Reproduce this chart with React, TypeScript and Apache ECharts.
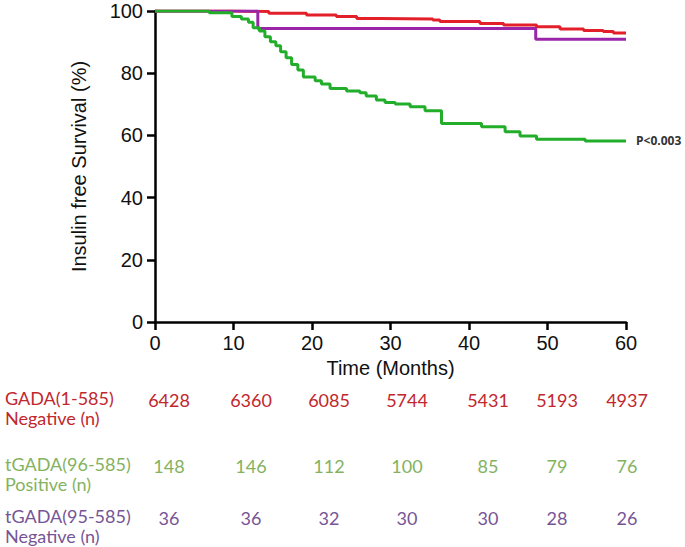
import React, { useEffect, useRef } from "react";
import * as echarts from "echarts";

// Kaplan-Meier curves: [month, survival %]
const gadaNegative: [number, number][] = [
  [0, 100], [10, 99.8], [14.5, 99.3], [19.3, 98.7], [23.1, 98.2], [25.7, 97.6],
  [28.7, 97.4], [35.4, 97.1], [36.3, 96.6], [41.4, 96.0], [44.4, 95.5],
  [48.6, 94.9], [51.6, 94.2], [54.6, 93.7], [57.1, 93.4], [58.4, 92.9], [60, 92.9],
];
const tgadaNegative: [number, number][] = [
  [0, 100], [13.1, 94.4], [48.5, 90.9], [60, 90.9],
];
const tgadaPositive: [number, number][] = [
  [0, 100], [6.9, 99.4], [9.8, 98.2], [11, 97.4], [11.9, 96.4], [12.5, 94.6],
  [13.3, 93.6], [14, 91.7], [14.7, 90.1], [15.4, 88.8], [16, 86.9], [16.7, 85],
  [17.4, 82.8], [18.2, 81], [18.9, 78.8], [20.4, 77.6], [21.2, 76.5], [22.3, 75.1],
  [24.4, 74.3], [26.1, 73.7], [26.9, 72.7], [28.2, 71.4], [29.3, 70.6], [30.6, 70.1],
  [32.5, 69.2], [34.4, 67.9], [36.5, 63.8], [41.6, 62.8], [44.6, 61.2], [46.5, 59.8],
  [48.6, 58.8], [54.8, 58.2], [60, 58.2],
];

// Numbers at risk table
const riskGadaNeg = [6428, 6360, 6085, 5744, 5431, 5193, 4937];
const riskTgadaPos = [148, 146, 112, 100, 85, 79, 76];
const riskTgadaNeg = [36, 36, 32, 30, 30, 28, 26];
const rowLabels = [
  ["GADA(1-585)", "Negative (n)"],
  ["tGADA(96-585)", "Positive (n)"],
  ["tGADA(95-585)", "Negative (n)"],
];
const pValueText = "P<0.003";

const RED = "#e3202a";
const GREEN = "#22ad2b";
const PURPLE = "#9a25a8";
const TXT_RED = "#c1272d";
const TXT_GREEN = "#84b25f";
const TXT_PURPLE = "#765596";

const colX = [169, 251, 329, 407, 488, 557, 627];
const rowY = [[400, 420], [466, 486], [518, 538]];

export default function App() {
  const ref = useRef<HTMLDivElement>(null);
  useEffect(() => {
    if (!ref.current) return;
    const chart = echarts.init(ref.current, undefined, { renderer: "svg" });
    const tableFont = "18px Lato, 'Open Sans', sans-serif";
    const rows = [riskGadaNeg, riskTgadaPos, riskTgadaNeg];
    const rowColors = [TXT_RED, TXT_GREEN, TXT_PURPLE];
    const graphics: any[] = [];
    rows.forEach((vals, r) => {
      graphics.push({
        type: "text",
        left: 5,
        top: rowY[r][0] - 11,
        style: { text: rowLabels[r][0], fill: rowColors[r], font: tableFont },
      });
      graphics.push({
        type: "text",
        left: 5,
        top: rowY[r][1] - 11,
        style: { text: rowLabels[r][1], fill: rowColors[r], font: tableFont },
      });
      vals.forEach((v, i) => {
        graphics.push({
          type: "text",
          x: colX[i],
          y: rowY[r][0],
          style: {
            text: String(v),
            fill: rowColors[r],
            font: tableFont,
            textAlign: "center",
            textVerticalAlign: "middle",
          },
        });
      });
    });

    const axisFont = "Liberation Sans, Arial, sans-serif";
    chart.setOption({
      animation: false,
      backgroundColor: "#ffffff",
      grid: { left: 155, right: 59, top: 11, bottom: 225, containLabel: false },
      xAxis: {
        type: "value",
        min: 0,
        max: 60,
        interval: 10,
        name: "Time (Months)",
        nameLocation: "middle",
        nameGap: 31,
        nameTextStyle: { fontSize: 20, color: "#111", fontFamily: axisFont },
        axisLine: { show: true, onZero: false, lineStyle: { color: "#000", width: 2.5 } },
        axisTick: { show: true, inside: false, length: 8, lineStyle: { color: "#000", width: 2.5 } },
        axisLabel: { fontSize: 20, color: "#111", fontFamily: axisFont, margin: 11 },
        splitLine: { show: false },
      },
      yAxis: {
        type: "value",
        min: 0,
        max: 100,
        interval: 20,
        name: "Insulin free Survival (%)",
        nameLocation: "middle",
        nameGap: 66,
        nameRotate: 90,
        nameTextStyle: { fontSize: 20, color: "#111", fontFamily: axisFont },
        axisLine: { show: true, onZero: false, lineStyle: { color: "#000", width: 2.5 } },
        axisTick: { show: true, inside: false, length: 8, lineStyle: { color: "#000", width: 2.5 } },
        axisLabel: { fontSize: 20, color: "#111", fontFamily: axisFont, margin: 12 },
        splitLine: { show: false },
      },
      series: [
        {
          type: "line",
          name: "GADA Negative",
          data: gadaNegative,
          step: "end",
          showSymbol: false,
          lineStyle: { color: RED, width: 3 },
          itemStyle: { color: RED },
          z: 2,
        },
        {
          type: "line",
          name: "tGADA Negative",
          data: tgadaNegative,
          step: "end",
          showSymbol: false,
          lineStyle: { color: PURPLE, width: 3 },
          itemStyle: { color: PURPLE },
          z: 3,
        },
        {
          type: "line",
          name: "tGADA Positive",
          data: tgadaPositive,
          step: "end",
          showSymbol: false,
          lineStyle: { color: GREEN, width: 3 },
          itemStyle: { color: GREEN },
          z: 4,
          endLabel: {
            show: true,
            formatter: pValueText,
            distance: 10,
            fontSize: 12,
            fontWeight: "bold",
            color: "#333",
            fontFamily: "'Open Sans', sans-serif",
          },
        },
      ],
      graphic: graphics,
    });
    return () => chart.dispose();
  }, []);
  return (
    <div
      ref={ref}
      style={{ position: "fixed", left: 0, top: 0, width: 685, height: 547, background: "#fff" }}
    />
  );
}
